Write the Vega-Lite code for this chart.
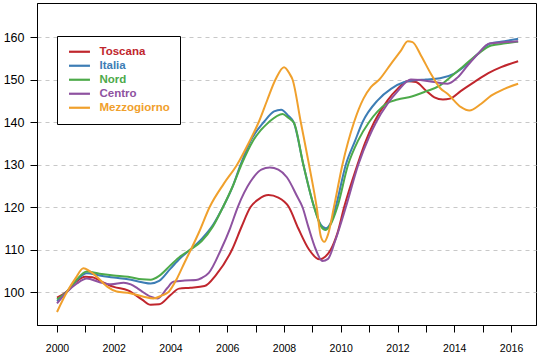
{
  "$schema": "https://vega.github.io/schema/vega-lite/v6.json",
  "width": 499,
  "height": 322,
  "autosize": "none",
  "padding": {"left": 37, "top": 3, "right": 4, "bottom": 33},
  "background": "white",
  "config": {
    "font": "Liberation Sans",
    "view": {"stroke": "black", "strokeWidth": 1}
  },
  "data": {"values": [
{"s":"Toscana","t":2000.0,"v":98.7},{"s":"Toscana","t":2000.35,"v":100.1},{"s":"Toscana","t":2000.65,"v":102.3},{"s":"Toscana","t":2001.0,"v":103.6},{"s":"Toscana","t":2001.25,"v":103.5},{"s":"Toscana","t":2001.5,"v":102.7},{"s":"Toscana","t":2002.0,"v":101.2},{"s":"Toscana","t":2002.5,"v":100.4},{"s":"Toscana","t":2003.0,"v":98.2},{"s":"Toscana","t":2003.3,"v":97.0},{"s":"Toscana","t":2003.6,"v":97.1},{"s":"Toscana","t":2004.0,"v":99.3},{"s":"Toscana","t":2004.3,"v":100.8},{"s":"Toscana","t":2004.7,"v":101.0},{"s":"Toscana","t":2005.2,"v":101.4},{"s":"Toscana","t":2005.6,"v":104.0},{"s":"Toscana","t":2006.17,"v":110.0},{"s":"Toscana","t":2006.5,"v":115.3},{"s":"Toscana","t":2006.82,"v":120.0},{"s":"Toscana","t":2007.1,"v":121.8},{"s":"Toscana","t":2007.45,"v":122.8},{"s":"Toscana","t":2007.8,"v":122.2},{"s":"Toscana","t":2008.17,"v":120.0},{"s":"Toscana","t":2008.5,"v":115.0},{"s":"Toscana","t":2008.88,"v":110.0},{"s":"Toscana","t":2009.25,"v":107.7},{"s":"Toscana","t":2009.45,"v":108.3},{"s":"Toscana","t":2009.65,"v":110.0},{"s":"Toscana","t":2009.88,"v":113.8},{"s":"Toscana","t":2010.12,"v":120.0},{"s":"Toscana","t":2010.59,"v":130.0},{"s":"Toscana","t":2010.85,"v":135.0},{"s":"Toscana","t":2011.18,"v":140.0},{"s":"Toscana","t":2011.65,"v":145.1},{"s":"Toscana","t":2012.0,"v":147.8},{"s":"Toscana","t":2012.35,"v":149.6},{"s":"Toscana","t":2012.65,"v":149.4},{"s":"Toscana","t":2013.0,"v":147.4},{"s":"Toscana","t":2013.3,"v":145.8},{"s":"Toscana","t":2013.6,"v":145.3},{"s":"Toscana","t":2013.85,"v":145.5},{"s":"Toscana","t":2014.25,"v":147.4},{"s":"Toscana","t":2014.7,"v":149.4},{"s":"Toscana","t":2015.2,"v":151.5},{"s":"Toscana","t":2015.65,"v":152.9},{"s":"Toscana","t":2016.25,"v":154.3},
{"s":"Italia","t":2000.0,"v":97.9},{"s":"Italia","t":2000.35,"v":100.1},{"s":"Italia","t":2000.7,"v":102.8},{"s":"Italia","t":2001.05,"v":104.4},{"s":"Italia","t":2001.5,"v":103.9},{"s":"Italia","t":2002.0,"v":103.4},{"s":"Italia","t":2002.5,"v":103.0},{"s":"Italia","t":2003.0,"v":102.3},{"s":"Italia","t":2003.3,"v":102.0},{"s":"Italia","t":2003.6,"v":102.6},{"s":"Italia","t":2004.0,"v":105.5},{"s":"Italia","t":2004.35,"v":108.0},{"s":"Italia","t":2004.7,"v":110.0},{"s":"Italia","t":2005.1,"v":112.5},{"s":"Italia","t":2005.5,"v":115.8},{"s":"Italia","t":2005.85,"v":120.0},{"s":"Italia","t":2006.2,"v":125.0},{"s":"Italia","t":2006.47,"v":130.0},{"s":"Italia","t":2006.9,"v":136.5},{"s":"Italia","t":2007.29,"v":140.0},{"s":"Italia","t":2007.65,"v":142.5},{"s":"Italia","t":2007.9,"v":142.9},{"s":"Italia","t":2008.15,"v":141.5},{"s":"Italia","t":2008.35,"v":139.8},{"s":"Italia","t":2008.68,"v":130.0},{"s":"Italia","t":2009.06,"v":120.0},{"s":"Italia","t":2009.3,"v":115.8},{"s":"Italia","t":2009.47,"v":115.0},{"s":"Italia","t":2009.65,"v":116.3},{"s":"Italia","t":2009.82,"v":120.0},{"s":"Italia","t":2010.18,"v":130.0},{"s":"Italia","t":2010.5,"v":135.5},{"s":"Italia","t":2010.77,"v":140.0},{"s":"Italia","t":2011.3,"v":145.1},{"s":"Italia","t":2011.77,"v":147.8},{"s":"Italia","t":2012.24,"v":149.4},{"s":"Italia","t":2012.6,"v":149.8},{"s":"Italia","t":2013.0,"v":150.0},{"s":"Italia","t":2013.5,"v":150.3},{"s":"Italia","t":2014.0,"v":151.4},{"s":"Italia","t":2014.47,"v":153.7},{"s":"Italia","t":2014.83,"v":156.0},{"s":"Italia","t":2015.24,"v":158.4},{"s":"Italia","t":2015.77,"v":159.0},{"s":"Italia","t":2016.25,"v":159.6},
{"s":"Nord","t":2000.0,"v":98.3},{"s":"Nord","t":2000.35,"v":100.1},{"s":"Nord","t":2000.7,"v":103.0},{"s":"Nord","t":2001.05,"v":104.8},{"s":"Nord","t":2001.5,"v":104.3},{"s":"Nord","t":2002.0,"v":103.9},{"s":"Nord","t":2002.5,"v":103.6},{"s":"Nord","t":2003.0,"v":103.0},{"s":"Nord","t":2003.3,"v":102.9},{"s":"Nord","t":2003.6,"v":103.8},{"s":"Nord","t":2004.0,"v":106.3},{"s":"Nord","t":2004.35,"v":108.4},{"s":"Nord","t":2004.7,"v":110.0},{"s":"Nord","t":2005.1,"v":112.0},{"s":"Nord","t":2005.5,"v":115.5},{"s":"Nord","t":2005.85,"v":120.0},{"s":"Nord","t":2006.2,"v":125.0},{"s":"Nord","t":2006.5,"v":130.0},{"s":"Nord","t":2006.9,"v":135.5},{"s":"Nord","t":2007.47,"v":140.0},{"s":"Nord","t":2007.95,"v":141.9},{"s":"Nord","t":2008.15,"v":141.0},{"s":"Nord","t":2008.35,"v":139.8},{"s":"Nord","t":2008.68,"v":130.0},{"s":"Nord","t":2009.06,"v":120.0},{"s":"Nord","t":2009.3,"v":115.5},{"s":"Nord","t":2009.47,"v":114.6},{"s":"Nord","t":2009.65,"v":116.0},{"s":"Nord","t":2009.88,"v":120.0},{"s":"Nord","t":2010.26,"v":130.0},{"s":"Nord","t":2010.6,"v":135.5},{"s":"Nord","t":2011.0,"v":140.0},{"s":"Nord","t":2011.3,"v":142.5},{"s":"Nord","t":2011.6,"v":144.3},{"s":"Nord","t":2012.0,"v":145.3},{"s":"Nord","t":2012.5,"v":146.0},{"s":"Nord","t":2013.0,"v":147.2},{"s":"Nord","t":2013.5,"v":148.6},{"s":"Nord","t":2013.8,"v":150.2},{"s":"Nord","t":2014.35,"v":153.3},{"s":"Nord","t":2014.83,"v":156.0},{"s":"Nord","t":2015.3,"v":158.0},{"s":"Nord","t":2015.8,"v":158.5},{"s":"Nord","t":2016.25,"v":158.9},
{"s":"Centro","t":2000.0,"v":97.3},{"s":"Centro","t":2000.35,"v":100.0},{"s":"Centro","t":2000.7,"v":102.0},{"s":"Centro","t":2001.05,"v":103.2},{"s":"Centro","t":2001.5,"v":102.3},{"s":"Centro","t":2001.9,"v":101.8},{"s":"Centro","t":2002.35,"v":102.2},{"s":"Centro","t":2002.6,"v":101.8},{"s":"Centro","t":2002.85,"v":100.8},{"s":"Centro","t":2003.3,"v":98.9},{"s":"Centro","t":2003.55,"v":98.5},{"s":"Centro","t":2003.88,"v":100.9},{"s":"Centro","t":2004.1,"v":102.4},{"s":"Centro","t":2004.5,"v":102.7},{"s":"Centro","t":2004.9,"v":102.8},{"s":"Centro","t":2005.1,"v":103.3},{"s":"Centro","t":2005.35,"v":104.5},{"s":"Centro","t":2005.78,"v":110.0},{"s":"Centro","t":2006.1,"v":115.0},{"s":"Centro","t":2006.37,"v":120.0},{"s":"Centro","t":2006.82,"v":126.0},{"s":"Centro","t":2007.2,"v":128.8},{"s":"Centro","t":2007.5,"v":129.3},{"s":"Centro","t":2007.8,"v":128.8},{"s":"Centro","t":2008.1,"v":127.0},{"s":"Centro","t":2008.47,"v":122.4},{"s":"Centro","t":2008.65,"v":120.0},{"s":"Centro","t":2008.85,"v":115.5},{"s":"Centro","t":2009.12,"v":110.0},{"s":"Centro","t":2009.35,"v":107.3},{"s":"Centro","t":2009.55,"v":107.8},{"s":"Centro","t":2009.8,"v":112.0},{"s":"Centro","t":2010.18,"v":120.0},{"s":"Centro","t":2010.62,"v":130.0},{"s":"Centro","t":2011.0,"v":136.5},{"s":"Centro","t":2011.25,"v":140.0},{"s":"Centro","t":2011.65,"v":144.3},{"s":"Centro","t":2012.0,"v":147.2},{"s":"Centro","t":2012.47,"v":150.0},{"s":"Centro","t":2012.8,"v":149.9},{"s":"Centro","t":2013.3,"v":149.4},{"s":"Centro","t":2013.77,"v":149.0},{"s":"Centro","t":2014.12,"v":150.5},{"s":"Centro","t":2014.47,"v":153.3},{"s":"Centro","t":2014.83,"v":156.0},{"s":"Centro","t":2015.24,"v":158.5},{"s":"Centro","t":2015.8,"v":158.8},{"s":"Centro","t":2016.25,"v":159.0},
{"s":"Mezzogiorno","t":2000.0,"v":95.3},{"s":"Mezzogiorno","t":2000.35,"v":100.0},{"s":"Mezzogiorno","t":2000.65,"v":103.2},{"s":"Mezzogiorno","t":2000.93,"v":105.6},{"s":"Mezzogiorno","t":2001.15,"v":104.9},{"s":"Mezzogiorno","t":2001.4,"v":103.6},{"s":"Mezzogiorno","t":2001.78,"v":101.2},{"s":"Mezzogiorno","t":2002.1,"v":100.1},{"s":"Mezzogiorno","t":2002.58,"v":99.7},{"s":"Mezzogiorno","t":2003.05,"v":98.9},{"s":"Mezzogiorno","t":2003.4,"v":98.5},{"s":"Mezzogiorno","t":2003.7,"v":99.2},{"s":"Mezzogiorno","t":2003.93,"v":100.0},{"s":"Mezzogiorno","t":2004.23,"v":103.2},{"s":"Mezzogiorno","t":2004.5,"v":107.0},{"s":"Mezzogiorno","t":2004.72,"v":110.0},{"s":"Mezzogiorno","t":2005.0,"v":114.0},{"s":"Mezzogiorno","t":2005.38,"v":120.0},{"s":"Mezzogiorno","t":2005.88,"v":125.5},{"s":"Mezzogiorno","t":2006.35,"v":130.0},{"s":"Mezzogiorno","t":2006.75,"v":135.0},{"s":"Mezzogiorno","t":2007.11,"v":140.0},{"s":"Mezzogiorno","t":2007.4,"v":145.0},{"s":"Mezzogiorno","t":2007.7,"v":150.0},{"s":"Mezzogiorno","t":2008.0,"v":152.9},{"s":"Mezzogiorno","t":2008.2,"v":151.3},{"s":"Mezzogiorno","t":2008.3,"v":150.0},{"s":"Mezzogiorno","t":2008.59,"v":140.0},{"s":"Mezzogiorno","t":2008.88,"v":130.0},{"s":"Mezzogiorno","t":2009.15,"v":120.0},{"s":"Mezzogiorno","t":2009.3,"v":113.0},{"s":"Mezzogiorno","t":2009.42,"v":111.8},{"s":"Mezzogiorno","t":2009.55,"v":113.5},{"s":"Mezzogiorno","t":2009.76,"v":120.0},{"s":"Mezzogiorno","t":2010.06,"v":130.0},{"s":"Mezzogiorno","t":2010.47,"v":140.0},{"s":"Mezzogiorno","t":2010.8,"v":145.5},{"s":"Mezzogiorno","t":2011.06,"v":148.2},{"s":"Mezzogiorno","t":2011.36,"v":150.0},{"s":"Mezzogiorno","t":2011.77,"v":153.7},{"s":"Mezzogiorno","t":2012.12,"v":156.8},{"s":"Mezzogiorno","t":2012.36,"v":159.0},{"s":"Mezzogiorno","t":2012.53,"v":158.8},{"s":"Mezzogiorno","t":2012.83,"v":155.6},{"s":"Mezzogiorno","t":2013.18,"v":151.3},{"s":"Mezzogiorno","t":2013.5,"v":148.0},{"s":"Mezzogiorno","t":2013.77,"v":146.6},{"s":"Mezzogiorno","t":2014.24,"v":143.5},{"s":"Mezzogiorno","t":2014.53,"v":142.7},{"s":"Mezzogiorno","t":2014.95,"v":144.3},{"s":"Mezzogiorno","t":2015.3,"v":146.2},{"s":"Mezzogiorno","t":2015.77,"v":147.8},{"s":"Mezzogiorno","t":2016.25,"v":149.0}
  ]},
  "mark": {"type": "line", "interpolate": "monotone", "strokeWidth": 2, "clip": true},
  "encoding": {
    "x": {
      "field": "t", "type": "quantitative",
      "scale": {"domain": [1999.295, 2016.88], "nice": false, "zero": false},
      "axis": {
        "title": null, "grid": false,
        "values": [2000,2001,2002,2003,2004,2005,2006,2007,2008,2009,2010,2011,2012,2013,2014,2015,2016],
        "format": "d",
        "labelExpr": "datum.value % 2 == 0 ? datum.label : ''",
        "domainColor": "black", "tickColor": "black", "tickSize": 7,
        "labelColor": "black", "labelFontSize": 10.5, "labelPadding": 11,
        "labelFont": "Liberation Sans"
      }
    },
    "y": {
      "field": "v", "type": "quantitative",
      "scale": {"domain": [92.24, 168.0], "nice": false, "zero": false},
      "axis": {
        "title": null,
        "values": [100,110,120,130,140,150,160],
        "grid": true, "gridColor": "#c8c8c8", "gridDash": [4, 4], "gridWidth": 1,
        "domainColor": "black", "tickColor": "black", "tickSize": 7,
        "labelColor": "black", "labelFontSize": 12.5, "labelPadding": 6,
        "labelFont": "Liberation Sans"
      }
    },
    "color": {
      "field": "s", "type": "nominal",
      "scale": {
        "domain": ["Toscana", "Italia", "Nord", "Centro", "Mezzogiorno"],
        "range": ["#c0262d", "#3d7db5", "#4daa4a", "#8e52a0", "#f0a02c"]
      },
      "legend": {
        "title": null,
        "orient": "none", "legendX": 20, "legendY": 33,
        "padding": 10,
        "strokeColor": "black", "fillColor": "white",
        "symbolType": "M-1,0H4.6",
        "symbolSize": 56,
        "symbolStrokeWidth": 2.2,
        "labelOffset": 21,
        "labelFontSize": 11.5,
        "labelFontWeight": "bold",
        "labelFont": "Liberation Sans",
        "rowPadding": 1,
        "encode": {
          "labels": {"update": {"fill": {"scale": "color", "field": "value"}}}
        }
      }
    }
  }
}
